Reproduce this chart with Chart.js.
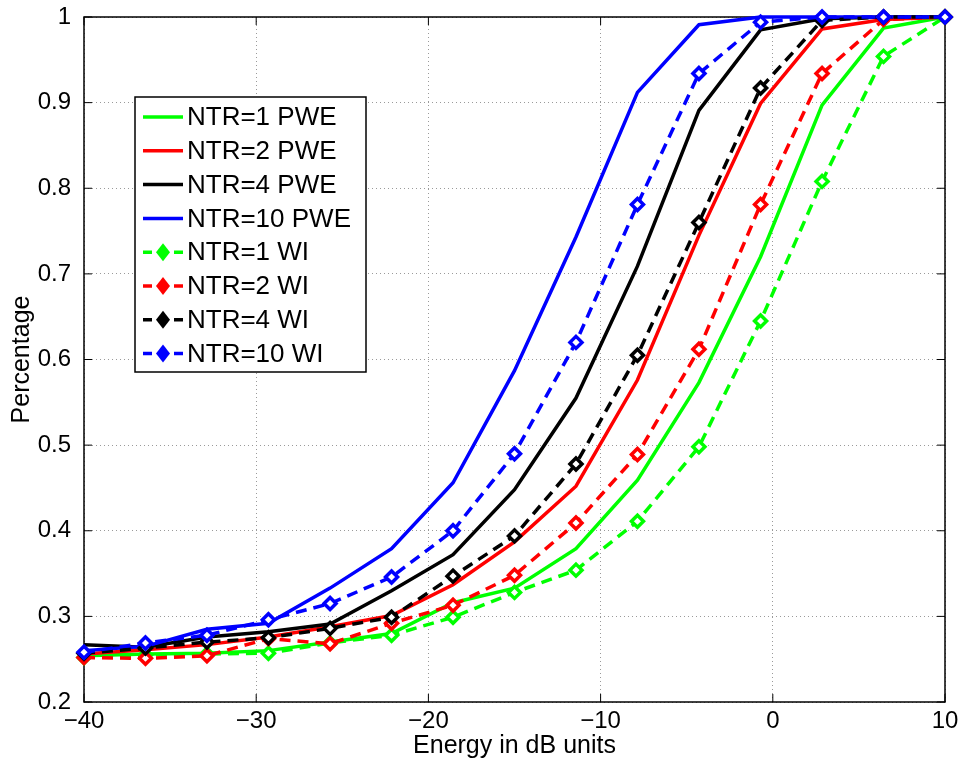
<!DOCTYPE html>
<html>
<head>
<meta charset="utf-8">
<script src="https://cdn.jsdelivr.net/npm/chart.js@4.4.0/dist/chart.umd.min.js"></script>
<style>
  html, body { margin: 0; padding: 0; background: #fff; }
  #wrap { width: 961px; height: 762px; }
</style>
</head>
<body>
<div id="wrap"><canvas id="chart" width="961" height="762"></canvas></div>
<script>
// energy axis (dB), 15 samples from -40 to 10
const energyDb = [-40, -36.43, -32.86, -29.29, -25.71, -22.14, -18.57, -15, -11.43, -7.86, -4.29, -0.71, 2.86, 6.43, 10];

const ntr1Pwe = [0.254, 0.256, 0.257, 0.260, 0.270, 0.280, 0.316, 0.333, 0.379, 0.459, 0.573, 0.720, 0.897, 0.987, 1.0];
const ntr2Pwe = [0.256, 0.261, 0.267, 0.276, 0.288, 0.301, 0.337, 0.387, 0.452, 0.576, 0.745, 0.899, 0.986, 0.997, 1.0];
const ntr4Pwe = [0.267, 0.264, 0.276, 0.282, 0.291, 0.330, 0.372, 0.448, 0.555, 0.709, 0.891, 0.985, 0.998, 1.0, 1.0];
const ntr10Pwe = [0.260, 0.265, 0.285, 0.292, 0.333, 0.379, 0.456, 0.587, 0.743, 0.912, 0.991, 1.0, 1.0, 1.0, 1.0];

const ntr1Wi = [0.252, 0.255, 0.256, 0.257, 0.269, 0.278, 0.299, 0.328, 0.354, 0.411, 0.498, 0.645, 0.808, 0.954, 1.0];
const ntr2Wi = [0.252, 0.251, 0.254, 0.274, 0.268, 0.292, 0.313, 0.348, 0.409, 0.489, 0.612, 0.781, 0.934, 0.997, 1.0];
const ntr4Wi = [0.257, 0.263, 0.270, 0.275, 0.286, 0.299, 0.347, 0.394, 0.478, 0.605, 0.760, 0.917, 0.996, 1.0, 1.0];
const ntr10Wi = [0.258, 0.269, 0.278, 0.296, 0.315, 0.346, 0.400, 0.490, 0.620, 0.781, 0.934, 0.994, 1.0, 1.0, 1.0];

const xTicks = [-40, -30, -20, -10, 0, 10];
const yTicks = [0.2, 0.3, 0.4, 0.5, 0.6, 0.7, 0.8, 0.9, 1];

const FONT = '"Liberation Sans", Arial, Helvetica, sans-serif';
const GREEN = '#00ff00', RED = '#ff0000', BLACK = '#000000', BLUE = '#0000ff';

function pts(vals) {
    return vals.map((v, i) => ({ x: energyDb[i], y: v }));
}

function solid(label, vals, color) {
    return {
        label, data: pts(vals), borderColor: color, backgroundColor: color,
        borderWidth: 3.5, pointRadius: 0, tension: 0, clip: false
    };
}

function dashed(label, vals, color) {
    return {
        label, data: pts(vals), borderColor: color, backgroundColor: '#ffffff',
        borderWidth: 3.5, borderDash: [11, 7], tension: 0, clip: false,
        pointStyle: 'rectRot', pointRadius: 6, pointBorderWidth: 3.5,
        pointBorderColor: color, pointBackgroundColor: '#ffffff', isWi: true
    };
}

const datasets = [
    solid('NTR=1 PWE', ntr1Pwe, GREEN),
    solid('NTR=2 PWE', ntr2Pwe, RED),
    solid('NTR=4 PWE', ntr4Pwe, BLACK),
    solid('NTR=10 PWE', ntr10Pwe, BLUE),
    dashed('NTR=1 WI', ntr1Wi, GREEN),
    dashed('NTR=2 WI', ntr2Wi, RED),
    dashed('NTR=4 WI', ntr4Wi, BLACK),
    dashed('NTR=10 WI', ntr10Wi, BLUE)
];
// later series are painted on top, like the original plot
datasets.forEach((ds, i) => { ds.order = datasets.length - i; });

// box, inward tick marks and legend drawn on top of the plot
const framePlugin = {
    id: 'frame',
    beforeDatasetsDraw(chart) {
        const { ctx, chartArea: a, scales } = chart;
        ctx.save();
        ctx.strokeStyle = '#000';
        ctx.lineWidth = 1.5;
        ctx.strokeRect(a.left, a.top, a.right - a.left, a.bottom - a.top);
        ctx.lineWidth = 1;
        xTicks.forEach(t => {
            const x = scales.x.getPixelForValue(t);
            ctx.beginPath();
            ctx.moveTo(x, a.bottom); ctx.lineTo(x, a.bottom - 8);
            ctx.moveTo(x, a.top); ctx.lineTo(x, a.top + 8);
            ctx.stroke();
        });
        yTicks.forEach(t => {
            const y = scales.y.getPixelForValue(t);
            ctx.beginPath();
            ctx.moveTo(a.left, y); ctx.lineTo(a.left + 8, y);
            ctx.moveTo(a.right, y); ctx.lineTo(a.right - 8, y);
            ctx.stroke();
        });
        ctx.restore();
    },
    afterDatasetsDraw(chart) {
        const { ctx } = chart;
        ctx.save();
        // legend
        const bx = 135, by = 97, bw = 231, bh = 275;
        ctx.fillStyle = '#fff';
        ctx.fillRect(bx, by, bw, bh);
        ctx.strokeStyle = '#000';
        ctx.lineWidth = 1.5;
        ctx.strokeRect(bx, by, bw, bh);
        ctx.font = '26px ' + FONT;
        ctx.textBaseline = 'middle';
        ctx.textAlign = 'left';
        chart.data.datasets.forEach((ds, i) => {
            const y = 117 + i * 33.8;
            ctx.strokeStyle = ds.borderColor;
            ctx.lineWidth = 3.5;
            if (ds.isWi) {
                ctx.beginPath();
                ctx.moveTo(143, y); ctx.lineTo(152, y);
                ctx.moveTo(174, y); ctx.lineTo(183, y);
                ctx.stroke();
                ctx.fillStyle = ds.borderColor;
                ctx.beginPath();
                ctx.moveTo(163, y - 9); ctx.lineTo(170, y);
                ctx.lineTo(163, y + 9); ctx.lineTo(156, y);
                ctx.closePath();
                ctx.fill();
            } else {
                ctx.beginPath();
                ctx.moveTo(143, y); ctx.lineTo(183, y);
                ctx.stroke();
            }
            ctx.fillStyle = '#000';
            ctx.fillText(ds.label, 187, y + 1);
        });
        ctx.restore();
    }
};

new Chart(document.getElementById('chart'), {
    type: 'line',
    data: { datasets },
    plugins: [framePlugin],
    options: {
        responsive: false,
        animation: false,
        layout: { padding: { top: 17, right: 16, left: 0, bottom: 0 } },
        plugins: { legend: { display: false }, tooltip: { enabled: false } },
        scales: {
            x: {
                type: 'linear', min: -40, max: 10,
                afterFit: s => { s.height = 60; s.paddingLeft = 0; s.paddingRight = 0; },
                afterBuildTicks: s => { s.ticks = xTicks.map(v => ({ value: v })); },
                grid: { color: '#9a9a9a', lineWidth: 1, drawTicks: false },
                border: { display: false, dash: [1, 3] },
                ticks: {
                    color: '#000', padding: 5, maxRotation: 0,
                    font: { family: FONT, size: 24 },
                    callback: v => (v < 0 ? '\u2212' + Math.abs(v) : String(v))
                },
                title: {
                    display: true, text: 'Energy in dB units', color: '#000',
                    font: { family: FONT, size: 25 }, padding: { top: 0, bottom: 1 }
                }
            },
            y: {
                type: 'linear', min: 0.2, max: 1,
                afterFit: s => { s.width = 84; s.paddingTop = 0; s.paddingBottom = 0; },
                afterBuildTicks: s => { s.ticks = yTicks.map(v => ({ value: v })); },
                grid: { color: '#9a9a9a', lineWidth: 1, drawTicks: false },
                border: { display: false, dash: [1, 3] },
                ticks: {
                    color: '#000', padding: 13,
                    font: { family: FONT, size: 24 },
                    callback: v => (Math.abs(v - 1) < 1e-9 ? '1' : (Math.round(v * 10) / 10).toFixed(1))
                },
                title: {
                    display: true, text: 'Percentage', color: '#000',
                    font: { family: FONT, size: 25 }, padding: { top: 7, bottom: 0 }
                }
            }
        }
    }
});
</script>
</body>
</html>
